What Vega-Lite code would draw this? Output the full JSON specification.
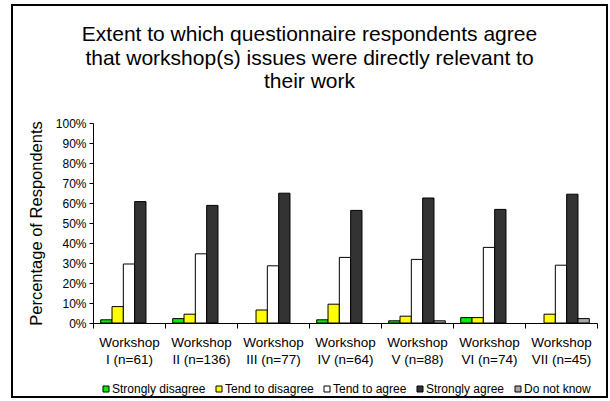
{
  "$schema": "https://vega.github.io/schema/vega-lite/v6.json",
  "width": 595,
  "height": 392,
  "autosize": {"type": "none"},
  "padding": {"left": 12, "top": 5, "right": 3, "bottom": 4},
  "background": "white",
  "config": {
    "view": {"stroke": "black", "strokeWidth": 2},
    "font": "Liberation Sans"
  },
  "title": {
    "text": ["Extent to which questionnaire respondents agree", "that workshop(s) issues were directly relevant to", "their work"],
    "fontSize": 21,
    "font": "Liberation Sans",
    "fontWeight": "normal",
    "color": "black",
    "lineHeight": 23.5,
    "anchor": "middle",
    "baseline": "top",
    "offset": -87
  },
  "data": {
    "values": [
      {"workshop": "I (n=61)", "response": "Strongly disagree", "pct": 1.6},
      {"workshop": "I (n=61)", "response": "Tend to disagree", "pct": 8.2},
      {"workshop": "I (n=61)", "response": "Tend to agree", "pct": 29.5},
      {"workshop": "I (n=61)", "response": "Strongly agree", "pct": 60.7},
      {"workshop": "II (n=136)", "response": "Strongly disagree", "pct": 2.2},
      {"workshop": "II (n=136)", "response": "Tend to disagree", "pct": 4.4},
      {"workshop": "II (n=136)", "response": "Tend to agree", "pct": 34.6},
      {"workshop": "II (n=136)", "response": "Strongly agree", "pct": 58.8},
      {"workshop": "III (n=77)", "response": "Tend to disagree", "pct": 6.5},
      {"workshop": "III (n=77)", "response": "Tend to agree", "pct": 28.6},
      {"workshop": "III (n=77)", "response": "Strongly agree", "pct": 64.9},
      {"workshop": "IV (n=64)", "response": "Strongly disagree", "pct": 1.6},
      {"workshop": "IV (n=64)", "response": "Tend to disagree", "pct": 9.4},
      {"workshop": "IV (n=64)", "response": "Tend to agree", "pct": 32.8},
      {"workshop": "IV (n=64)", "response": "Strongly agree", "pct": 56.3},
      {"workshop": "V (n=88)", "response": "Strongly disagree", "pct": 1.1},
      {"workshop": "V (n=88)", "response": "Tend to disagree", "pct": 3.4},
      {"workshop": "V (n=88)", "response": "Tend to agree", "pct": 31.8},
      {"workshop": "V (n=88)", "response": "Strongly agree", "pct": 62.5},
      {"workshop": "V (n=88)", "response": "Do not know", "pct": 1.1},
      {"workshop": "VI (n=74)", "response": "Strongly disagree", "pct": 2.7},
      {"workshop": "VI (n=74)", "response": "Tend to disagree", "pct": 2.7},
      {"workshop": "VI (n=74)", "response": "Tend to agree", "pct": 37.8},
      {"workshop": "VI (n=74)", "response": "Strongly agree", "pct": 56.8},
      {"workshop": "VII (n=45)", "response": "Tend to disagree", "pct": 4.4},
      {"workshop": "VII (n=45)", "response": "Tend to agree", "pct": 28.9},
      {"workshop": "VII (n=45)", "response": "Strongly agree", "pct": 64.4},
      {"workshop": "VII (n=45)", "response": "Do not know", "pct": 2.2}
    ]
  },
  "mark": {"type": "bar", "stroke": "black", "strokeWidth": 1},
  "encoding": {
    "x": {
      "field": "workshop",
      "type": "nominal",
      "sort": ["I (n=61)", "II (n=136)", "III (n=77)", "IV (n=64)", "V (n=88)", "VI (n=74)", "VII (n=45)"],
      "scale": {"range": [81, 585], "paddingInner": 0, "paddingOuter": 0},
      "axis": {
        "title": null,
        "orient": "bottom",
        "offset": -74,
        "labelAngle": 0,
        "labelExpr": "datum.label ? ['Workshop', datum.label] : ''",
        "labelFont": "Liberation Sans",
        "labelFontSize": 13.5,
        "labelLineHeight": 17.5,
        "labelPadding": 7,
        "labelColor": "black",
        "tickBand": "extent",
        "tickSize": 5,
        "tickColor": "black",
        "domainColor": "black"
      }
    },
    "xOffset": {
      "field": "response",
      "type": "nominal",
      "sort": ["Strongly disagree", "Tend to disagree", "Tend to agree", "Strongly agree", "Do not know"],
      "scale": {"domain": ["Strongly disagree", "Tend to disagree", "Tend to agree", "Strongly agree", "Do not know"], "paddingInner": 0, "paddingOuter": 0.68}
    },
    "y": {
      "field": "pct",
      "type": "quantitative",
      "scale": {"domain": [0, 100], "range": [318, 118], "nice": false},
      "axis": {
        "title": "Percentage of Respondents",
        "orient": "left",
        "offset": -81,
        "values": [0, 10, 20, 30, 40, 50, 60, 70, 80, 90, 100],
        "labelExpr": "datum.value + '%'",
        "grid": false,
        "domainColor": "black",
        "tickColor": "black",
        "tickSize": 4,
        "labelFont": "Liberation Sans",
        "labelFontSize": 12,
        "labelColor": "black",
        "labelPadding": 3,
        "titleFont": "Liberation Sans",
        "titleFontSize": 16.5,
        "titleFontWeight": "normal",
        "titleColor": "black",
        "titlePadding": 11
      }
    },
    "color": {
      "field": "response",
      "type": "nominal",
      "scale": {
        "domain": ["Strongly disagree", "Tend to disagree", "Tend to agree", "Strongly agree", "Do not know"],
        "range": ["#00ee00", "#ffff00", "#ffffff", "#333333", "#a8a8a8"]
      },
      "legend": {
        "title": null,
        "orient": "none",
        "legendX": 88,
        "legendY": 378,
        "direction": "horizontal",
        "symbolType": "square",
        "symbolSize": 36,
        "symbolStrokeColor": "black",
        "symbolStrokeWidth": 1,
        "symbolOpacity": 1,
        "labelFont": "Liberation Sans",
        "labelFontSize": 12,
        "labelColor": "black",
        "labelOffset": 0,
        "columnPadding": 7,
        "padding": 0
      }
    }
  }
}
